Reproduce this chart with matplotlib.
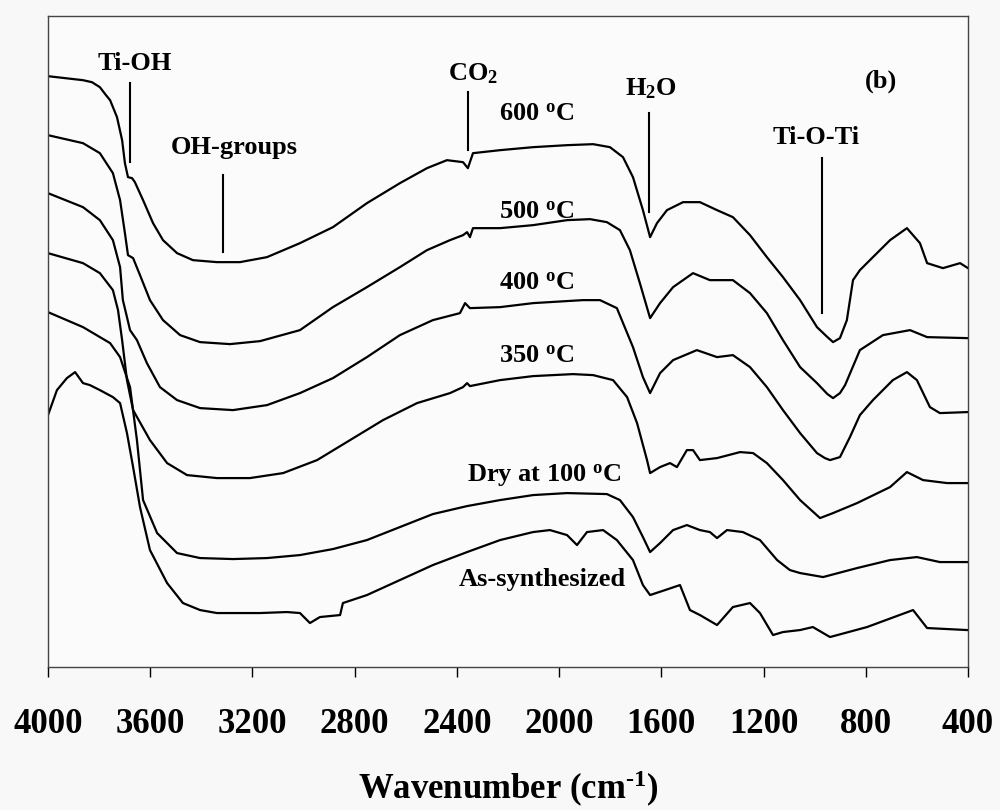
import numpy as np
import matplotlib
matplotlib.use("Agg")
import matplotlib.pyplot as plt

plt.rcParams['font.family'] = ['Liberation Serif', 'DejaVu Serif']
plt.rcParams['font.weight'] = 'bold'
plt.rcParams['axes.labelweight'] = 'bold'
plt.rcParams['mathtext.fontset'] = 'custom'
plt.rcParams['mathtext.rm'] = 'Liberation Serif:bold'
plt.rcParams['mathtext.bf'] = 'Liberation Serif:bold'
plt.rcParams['mathtext.it'] = 'Liberation Serif:bold'

# FTIR spectra, wavenumber (cm-1) and transmittance (a.u., curves offset as in the figure)
wn_600 = [4000, 3863, 3828, 3797, 3773, 3757, 3730, 3710, 3699, 3687, 3671, 3660, 3628, 3589, 3550,
          3495, 3433, 3339, 3249, 3143, 3014, 2885, 2752, 2623, 2517, 2439, 2376, 2357, 2337, 2231,
          2102, 1969, 1867, 1801, 1750, 1711, 1672, 1644, 1617, 1578, 1515, 1449, 1382, 1320, 1253,
          1187, 1124, 1057, 991, 950, 928, 901, 874, 850, 823, 772, 705, 639, 588, 560,
          498, 431, 400]
t_600 = [591, 587, 585, 580, 572, 567, 550, 527, 504, 490, 489, 485, 467, 444, 427,
         414, 407, 405, 405, 410, 424, 440, 464, 484, 499, 507, 505, 499, 514, 517,
         520, 522, 523, 520, 510, 490, 457, 430, 444, 457, 465, 465, 457, 450, 432,
         410, 390, 367, 340, 330, 325, 329, 347, 387, 397, 410, 427, 439, 424, 404,
         399, 404, 399]

wn_500 = [4000, 3863, 3797, 3746, 3718, 3699, 3687, 3667, 3640, 3601, 3550, 3483, 3405, 3288, 3170,
          3014, 2885, 2752, 2623, 2517, 2427, 2376, 2360, 2349, 2337, 2231, 2102, 1969, 1879, 1813,
          1762, 1723, 1684, 1644, 1605, 1554, 1476, 1410, 1320, 1253, 1187, 1124, 1057, 991, 950,
          928, 901, 881, 823, 733, 627, 560, 404]
t_500 = [532, 524, 514, 494, 467, 434, 412, 409, 392, 367, 347, 332, 325, 323, 326,
         337, 360, 380, 400, 417, 427, 432, 435, 430, 439, 439, 442, 447, 448, 445,
         437, 417, 384, 349, 364, 380, 394, 387, 387, 374, 354, 327, 300, 284, 273,
         269, 274, 282, 317, 332, 337, 330, 329]

wn_400 = [4000, 3863, 3797, 3746, 3718, 3707, 3691, 3679, 3652, 3613, 3562, 3495, 3405, 3276, 3143,
          3014, 2885, 2752, 2623, 2494, 2388, 2368, 2349, 2231, 2102, 1907, 1840, 1774, 1711, 1672,
          1644, 1605, 1554, 1461, 1382, 1320, 1253, 1187, 1124, 1057, 991, 960, 940, 901, 862,
          823, 772, 694, 639, 600, 549, 510, 404]
t_400 = [474, 460, 447, 427, 400, 367, 350, 337, 327, 304, 280, 267, 259, 257, 262,
         274, 289, 310, 332, 347, 354, 364, 359, 360, 364, 367, 367, 359, 320, 290,
         274, 294, 307, 317, 310, 312, 300, 280, 257, 234, 214, 209, 207, 210, 230,
         252, 267, 287, 295, 287, 260, 254, 255]

wn_350 = [4000, 3863, 3797, 3746, 3726, 3710, 3691, 3667, 3601, 3534, 3456, 3339, 3210, 3080, 2947,
          2818, 2689, 2556, 2427, 2376, 2360, 2349, 2231, 2102, 1946, 1867, 1789, 1734, 1695, 1656,
          1644, 1605, 1566, 1539, 1500, 1476, 1449, 1382, 1292, 1241, 1187, 1124, 1057, 979, 928,
          834, 705, 639, 576, 482, 404]
t_350 = [414, 404, 394, 377, 357, 327, 287, 257, 227, 204, 192, 189, 189, 194, 207,
         227, 247, 264, 274, 280, 284, 281, 287, 291, 293, 292, 287, 270, 244, 207,
         194, 200, 204, 200, 217, 217, 207, 209, 215, 214, 204, 187, 167, 149, 154,
         164, 180, 195, 187, 184, 184]

wn_dry = [4000, 3863, 3757, 3718, 3679, 3652, 3628, 3573, 3495, 3405, 3276, 3143, 3014, 2885, 2752,
          2623, 2494, 2360, 2231, 2102, 1969, 1813, 1762, 1711, 1672, 1644, 1605, 1554, 1500, 1449,
          1410, 1382, 1343, 1281, 1214, 1147, 1097, 1057, 967, 834, 705, 600, 510, 404]
t_dry = [355, 340, 324, 310, 280, 227, 167, 134, 114, 109, 108, 109, 112, 118, 127,
         140, 153, 161, 167, 172, 174, 173, 167, 150, 130, 115, 124, 137, 142, 137,
         135, 129, 137, 135, 127, 107, 97, 94, 90, 99, 107, 110, 105, 105]

wn_as = [4000, 3965, 3926, 3894, 3863, 3836, 3797, 3746, 3718, 3691, 3667, 3640, 3601, 3534, 3472,
         3405, 3339, 3171, 3065, 3014, 2975, 2936, 2857, 2846, 2752, 2623, 2494, 2360, 2231, 2102,
         2036, 1969, 1930, 1891, 1828, 1774, 1711, 1672, 1644, 1585, 1527, 1488, 1449, 1382, 1320,
         1253, 1214, 1163, 1124, 1057, 1007, 940, 795, 615, 560, 404]
t_as = [252, 277, 289, 295, 284, 282, 277, 270, 264, 234, 200, 160, 117, 84, 64,
        57, 54, 54, 55, 54, 44, 50, 52, 64, 72, 87, 102, 115, 127, 135,
        137, 132, 122, 135, 137, 127, 107, 82, 72, 77, 82, 57, 52, 42, 60,
        64, 54, 32, 35, 37, 40, 30, 40, 57, 39, 37]

xticks = [4000, 3600, 3200, 2800, 2400, 2000, 1600, 1200, 800, 400]

fig = plt.figure(figsize=(10, 8.1), dpi=100, facecolor='#f8f8f8')
ax = fig.add_axes([0.048, 0.1765, 0.92, 0.8035])
ax.set_facecolor('#fbfbfb')

for wn, t in [(wn_600, t_600), (wn_500, t_500), (wn_400, t_400),
              (wn_350, t_350), (wn_dry, t_dry), (wn_as, t_as)]:
    ax.plot(wn, t, color='black', lw=1.6, solid_joinstyle='round')

fs = 19
# band markers
ax.plot([3679, 3679], [505, 584], color='black', lw=1.5)
ax.text(3808, 597, 'Ti-OH', fontsize=fs, ha='left', va='baseline')
ax.plot([3315, 3315], [415, 492], color='black', lw=1.5)
ax.text(3519, 513, 'OH-groups', fontsize=fs, ha='left', va='baseline')
ax.plot([2357, 2357], [517, 575], color='black', lw=1.5)
ax.text(2435, 587, r'CO$_\mathrm{2}$', fontsize=fs, ha='left', va='baseline')
ax.plot([1648, 1648], [455, 554], color='black', lw=1.5)
ax.text(1742, 572, r'H$_\mathrm{2}$O', fontsize=fs, ha='left', va='baseline')
ax.plot([971, 971], [354, 509], color='black', lw=1.5)
ax.text(1163, 523, 'Ti-O-Ti', fontsize=fs, ha='left', va='baseline')
ax.text(803, 580, '(b)', fontsize=fs, ha='left', va='baseline')

# sample labels
ax.text(2235, 547, r'600 $^\mathrm{o}$C', fontsize=fs, ha='left', va='baseline')
ax.text(2235, 449, r'500 $^\mathrm{o}$C', fontsize=fs, ha='left', va='baseline')
ax.text(2235, 378, r'400 $^\mathrm{o}$C', fontsize=fs, ha='left', va='baseline')
ax.text(2235, 305, r'350 $^\mathrm{o}$C', fontsize=fs, ha='left', va='baseline')
ax.text(2360, 185, r'Dry at 100 $^\mathrm{o}$C', fontsize=fs, ha='left', va='baseline')
ax.text(2392, 81, 'As-synthesized', fontsize=fs, ha='left', va='baseline')

ax.set_xlim(4000, 400)
ax.set_ylim(0, 651)
ax.set_xticks(xticks)
ax.set_yticks([])
ax.tick_params(axis='x', direction='out', length=7.5, width=1.0, labelsize=25, pad=22)
for s in ax.spines.values():
    s.set_linewidth(1.0)
    s.set_color('#444444')
ax.set_xlabel(r'Wavenumber (cm$^{\text{-1}}$)', fontsize=25, fontweight='bold', labelpad=20)

fig.savefig('out.png', dpi=100, facecolor=fig.get_facecolor())
